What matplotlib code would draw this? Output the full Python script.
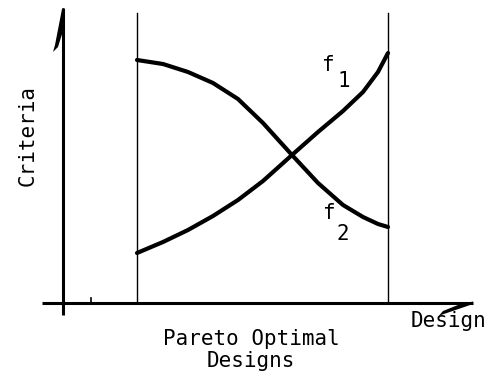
import matplotlib
matplotlib.use("Agg")
import matplotlib.pyplot as plt
from matplotlib.patches import Polygon

# Design positions (horizontal) and criteria values
design = [74, 100, 125, 150, 175, 200, 229, 255, 280, 300, 315, 325]
f1_values = [50, 61, 73, 87, 103, 122, 148, 171, 192, 211, 231, 250]
f2_values = [243, 239, 231, 220, 204, 180, 148, 120, 98, 86, 79, 76]

pareto_bounds = [74, 325]
x_label = "Design"
y_label = "Criteria"
region_label = "Pareto Optimal\nDesigns"

FONT = "DejaVu Sans Mono"

fig = plt.figure(figsize=(4.91, 3.77), dpi=100)
ax = fig.add_axes([0, 0, 1, 1])
ax.set_xlim(-63, 428)
ax.set_ylim(-74, 303)
ax.axis("off")

# axes
ax.plot([-21, 410], [0, 0], color="black", lw=2.2, solid_capstyle="butt")
ax.plot([0, 0], [-12, 295], color="black", lw=2.2, solid_capstyle="butt")
# arrow barbs (hand-drawn style)
ax.add_patch(Polygon([[1, 295], [-1, 294], [-8, 258], [-10, 251], [-5, 256], [0, 272]],
                     closed=True, color="black", lw=0))
ax.add_patch(Polygon([[410, 1.5], [410, -1], [378, -12], [374, -15], [380, -8], [395, -2]],
                     closed=True, color="black", lw=0))
# small tick
ax.plot([28, 28], [0, 5], color="black", lw=1.2)

# Pareto boundaries
for b in pareto_bounds:
    ax.plot([b, b], [0, 290], color="black", lw=1.0)

# curves
ax.plot(design, f1_values, color="black", lw=3.0, solid_capstyle="round", solid_joinstyle="round")
ax.plot(design, f2_values, color="black", lw=3.0, solid_capstyle="round", solid_joinstyle="round")

# labels
ax.text(265, 238, "f", family=FONT, fontsize=15, ha="center", va="center")
ax.text(281, 222, "1", family=FONT, fontsize=15, ha="center", va="center")
ax.text(266, 90, "f", family=FONT, fontsize=15, ha="center", va="center")
ax.text(280, 69, "2", family=FONT, fontsize=15, ha="center", va="center")

ax.text(-35, 168, y_label, family=FONT, fontsize=15, rotation=90, ha="center", va="center")
ax.text(386, -18, x_label, family=FONT, fontsize=15, ha="center", va="center")
ax.text(188, -47, region_label, family=FONT, fontsize=15, ha="center", va="center",
        linespacing=1.15)

fig.savefig("out.png", dpi=100)
